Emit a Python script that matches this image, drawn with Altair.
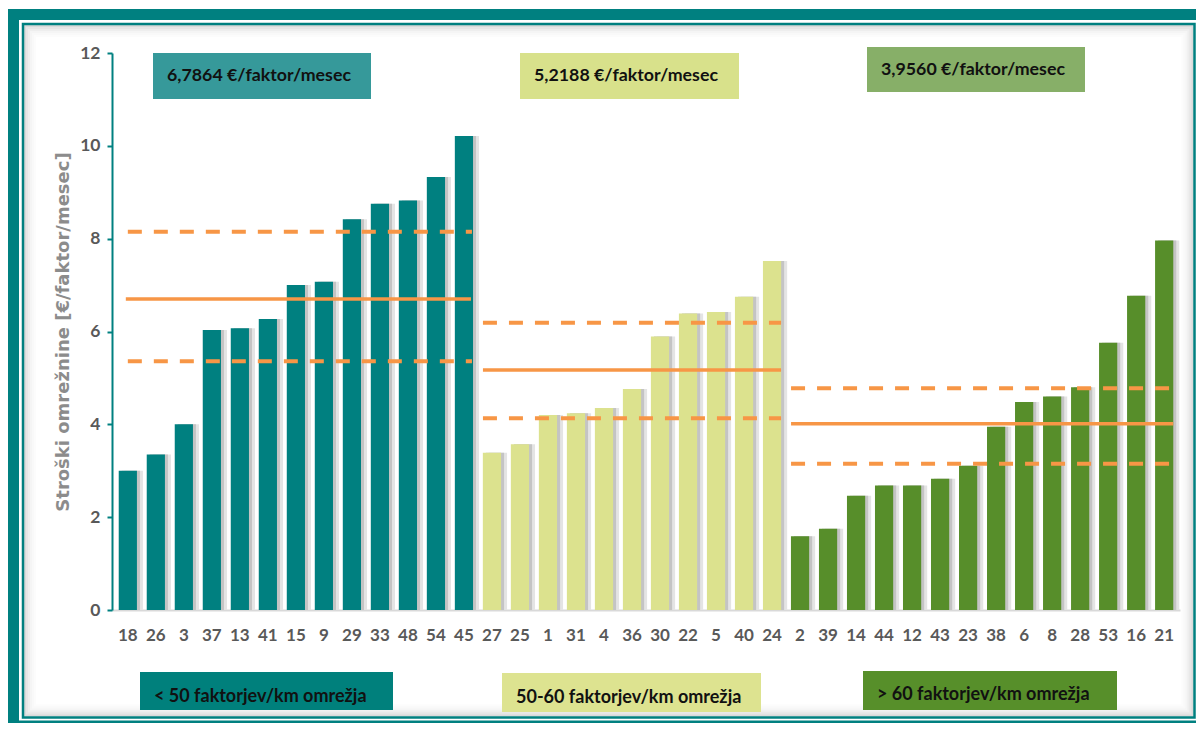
import altair as alt
import pandas as pd

# ---------------- data ----------------
cats1 = ["18", "26", "3", "37", "13", "41", "15", "9", "29", "33", "48", "54", "45"]
vals1 = [3.0, 3.35, 4.0, 6.03, 6.07, 6.27, 7.0, 7.07, 8.42, 8.75, 8.82, 9.33, 10.21]
cats2 = ["27", "25", "1", "31", "4", "36", "30", "22", "5", "40", "24"]
vals2 = [3.39, 3.57, 4.2, 4.24, 4.35, 4.76, 5.89, 6.39, 6.42, 6.75, 7.52]
cats3 = ["2", "39", "14", "44", "12", "43", "23", "38", "6", "8", "28", "53", "16", "21"]
vals3 = [1.59, 1.75, 2.46, 2.68, 2.68, 2.83, 3.11, 3.95, 4.48, 4.6, 4.8, 5.76, 6.77, 7.96]

groups = ["< 50 faktorjev/km omrežja", "50-60 faktorjev/km omrežja", "> 60 faktorjev/km omrežja"]
price_labels = ["6,7864 €/faktor/mesec", "5,2188 €/faktor/mesec", "3,9560 €/faktor/mesec"]
means = [6.70, 5.17, 4.01]
upper = [8.15, 6.19, 4.78]
lower = [5.36, 4.13, 3.15]
y_title = "Stroški omrežnine [€/faktor/mesec]"

bar_colors = ["#008080", "#DCE28E", "#578E2A"]
top_box_colors = ["#36999A", "#D8E18B", "#87AF68"]
bottom_box_colors = ["#00807C", "#DDE390", "#578F2A"]
ORANGE = "#F79646"
TEAL = "#008080"

# ---------------- tables ----------------
all_cats = cats1 + cats2 + cats3
bars = pd.DataFrame({
    "cat": all_cats,
    "value": vals1 + vals2 + vals3,
    "group": [groups[0]] * len(cats1) + [groups[1]] * len(cats2) + [groups[2]] * len(cats3),
})
cat_lists = [cats1, cats2, cats3]
lines = pd.DataFrame([
    {"group": groups[i], "gi": i, "kind": k, "value": v,
     "first": cat_lists[i][0], "last": cat_lists[i][-1]}
    for i in range(3)
    for k, v in (("mean", means[i]), ("upper", upper[i]), ("lower", lower[i]))
])

W, H = 1068, 557
FONT = "Lato"

xscale = alt.Scale(domain=all_cats, paddingInner=0.35, paddingOuter=0.24)
xenc = alt.X("cat:N", sort=None, scale=xscale,
             axis=alt.Axis(title=None, labelAngle=0, ticks=False,
                           domainColor="#D9D9D9", domainWidth=2,
                           labelFont=FONT, labelFontWeight="bold", labelFontSize=17,
                           labelColor="#595959", labelPadding=17))
yenc = alt.Y("value:Q", scale=alt.Scale(domain=[0, 12], nice=False),
             axis=alt.Axis(values=[0, 2, 4, 6, 8, 10, 12], grid=False,
                           domainColor=TEAL, domainWidth=2,
                           tickColor=TEAL, tickWidth=2, tickSize=5,
                           labelFont=FONT, labelFontWeight="bold", labelFontSize=17.5,
                           labelColor="#595959", labelPadding=7,
                           title=y_title, titleFont="DejaVu Sans", titleFontSize=18,
                           titleFontWeight="bold", titleColor="#8C8C8C",
                           titleAngle=-90, titleX=-49, titleY=H / 2,
                           titleAlign="center", titleBaseline="middle"))

base = alt.Chart(bars)

shadow2 = base.mark_bar(xOffset=6, color="#E4E4E4").encode(x=xenc, y=yenc)
shadow1 = base.mark_bar(xOffset=3, color="#C4C4C4").encode(x=xenc, y=yenc)
main_bars = base.mark_bar().encode(
    x=xenc, y=yenc,
    color=alt.Color("group:N", scale=alt.Scale(domain=groups, range=bar_colors), legend=None),
)

lx = alt.X("first:N", sort=None, scale=xscale)
lx2 = alt.X2("last:N")
ly = alt.Y("value:Q")
lines_base = alt.Chart(lines)
solid1 = lines_base.transform_filter("datum.kind == 'mean' && datum.gi == 0").mark_rule(
    color=ORANGE, strokeWidth=3.5, xOffset=-2, x2Offset=7).encode(x=lx, x2=lx2, y=ly)
solid23 = lines_base.transform_filter("datum.kind == 'mean' && datum.gi > 0").mark_rule(
    color=ORANGE, strokeWidth=3.5, xOffset=-9, x2Offset=9).encode(x=lx, x2=lx2, y=ly)
dash1 = lines_base.transform_filter("datum.kind != 'mean' && datum.gi == 0").mark_rule(
    color=ORANGE, strokeWidth=4, strokeDash=[14, 12], xOffset=0, x2Offset=8).encode(x=lx, x2=lx2, y=ly)
dash23 = lines_base.transform_filter("datum.kind != 'mean' && datum.gi > 0").mark_rule(
    color=ORANGE, strokeWidth=4, strokeDash=[14, 12], xOffset=-9, x2Offset=9).encode(x=lx, x2=lx2, y=ly)

# ---------------- decorations (pixel positions relative to plot origin) ----------------
OX, OY = 112, 53  # page position of plot origin


def prect(x1, y1, x2, y2, **kw):
    d = pd.DataFrame({"k": [0]})
    return alt.Chart(d).mark_rect(**kw).encode(
        x=alt.value(x1 - OX), x2=alt.value(x2 - OX),
        y=alt.value(y1 - OY), y2=alt.value(y2 - OY))


def ptext(label, x, y, size=17, **kw):
    d = pd.DataFrame({"t": [label]})
    return alt.Chart(d).mark_text(align="left", baseline="middle", font=FONT,
                                  fontWeight="bold", fontSize=size, color="#111111", **kw).encode(
        x=alt.value(x - OX), y=alt.value(y - OY), text="t:N")


deco = []
# outer thick teal band
deco.append(prect(7, 9, 19, 724, color=TEAL))
deco.append(prect(7, 9, 1197, 20, color=TEAL))
deco.append(prect(7, 720.5, 1197, 724, color=TEAL))
# inner shadow
for i, op in enumerate([0.22, 0.15, 0.10, 0.06, 0.035, 0.015]):
    o = 2 + i * 2
    deco.append(prect(23 + o, 24 + o, 1194.5 - o, 717.5 - o, filled=False,
                      stroke="#555555", strokeWidth=2, strokeOpacity=op))
# inner thin teal line
deco.append(prect(23, 24, 1194.5, 717.5, filled=False, stroke=TEAL, strokeWidth=2.5))

# top price boxes
top_boxes = [(153, 53, 371, 99, 167, 76), (520, 53, 739, 99, 534, 76), (867, 47, 1085, 92, 881, 70)]
for (x1, y1, x2, y2, tx, ty), col, lab in zip(top_boxes, top_box_colors, price_labels):
    deco.append(prect(x1, y1, x2, y2, color=col))
    deco.append(ptext(lab, tx, ty, size=17.8))
# bottom group boxes
bot_boxes = [(140, 672, 393, 710, 154, 697), (502, 673, 761, 712, 516, 698), (863, 671, 1117, 710, 877, 695)]
for (x1, y1, x2, y2, tx, ty), col, lab in zip(bot_boxes, bottom_box_colors, groups):
    deco.append(prect(x1, y1, x2, y2, color=col))
    deco.append(ptext(lab, tx, ty, size=18))

chart = alt.layer(
    *deco[:8], shadow2, shadow1, main_bars, solid1, solid23, dash1, dash23, *deco[8:]
).properties(
    width=W, height=H,
    autosize=alt.AutoSizeParams(type="none"),
    padding={"left": 104, "top": 45, "right": 16, "bottom": 113},
    background="white",
).configure_view(stroke=None)

chart.save("out.html", embed_options={"renderer": "svg", "actions": False})
